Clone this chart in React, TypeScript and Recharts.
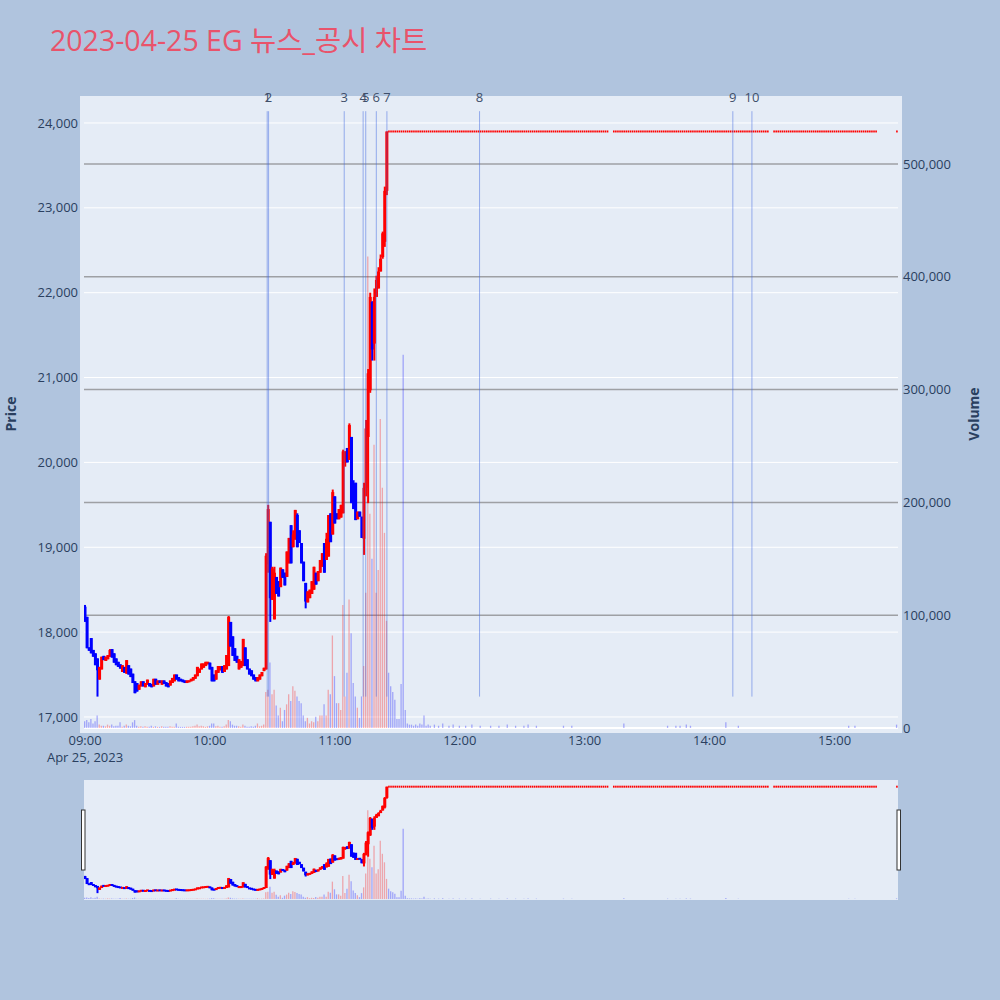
import React from "react"
import { Bar, CartesianGrid, Cell, ComposedChart, ReferenceLine, XAxis, YAxis } from "recharts"

// 1-minute candles, 09:00 (minute 0) to 11:25 (minute 145)
const opens = [
  18300, 18180, 17820, 17930, 17790, 17750, 17690, 17440, 17560, 17720,
  17660, 17680, 17710, 17800, 17750, 17690, 17650, 17620, 17530, 17590,
  17510, 17610, 17570, 17510, 17420, 17400, 17320, 17360, 17420, 17350,
  17380, 17400, 17390, 17360, 17450, 17380, 17430, 17380, 17430, 17410,
  17400, 17370, 17400, 17420, 17500, 17470, 17450, 17440, 17430, 17400,
  17410, 17420, 17430, 17450, 17480, 17520, 17560, 17580, 17600, 17620,
  17640, 17590, 17500, 17440, 17520, 17550, 17600, 17530, 17560, 17600,
  18120, 17950, 17810, 17720, 17560, 17580, 17600, 17820, 17680, 17570,
  17550, 17500, 17470, 17420, 17440, 17480, 17540, 17560, 18800, 19300,
  18380, 18150, 18650, 18600, 18530, 18740, 18700, 18650, 18810, 19260,
  19000, 19090, 19380, 19200, 19050, 18830, 18580, 18350, 18400, 18450,
  18500, 18700, 18600, 18700, 18770, 19050, 18850, 18890, 19400, 19150,
  19600, 19400, 19330, 19350, 19400, 20000, 20170, 20030, 20300, 19750,
  19760, 19330, 19420, 19360, 19100, 19700, 20300, 20850, 21890, 21400,
  21950, 22050, 22250, 22420, 22600, 23200,
]

const closes = [
  18150, 17810, 17780, 17750, 17710, 17610, 17550, 17590, 17710, 17670,
  17710, 17730, 17790, 17700, 17640, 17610, 17590, 17570, 17610, 17520,
  17670, 17500, 17470, 17400, 17280, 17300, 17380, 17420, 17360, 17400,
  17440, 17360, 17350, 17450, 17380, 17430, 17400, 17430, 17390, 17360,
  17350, 17430, 17460, 17500, 17440, 17420, 17420, 17410, 17400, 17430,
  17430, 17450, 17470, 17500, 17590, 17570, 17630, 17630, 17650, 17650,
  17560, 17420, 17420, 17550, 17600, 17600, 17520, 17610, 17730, 18180,
  17830, 17720, 17660, 17640, 17680, 17660, 17920, 17600, 17560, 17500,
  17480, 17440, 17420, 17470, 17500, 17530, 17580, 18900, 19450, 18400,
  18750, 18700, 18450, 18420, 18760, 18640, 18550, 18950, 19110, 18810,
  19150, 19440, 19000, 19050, 18810, 18600, 18360, 18480, 18500, 18600,
  18770, 18560, 18720, 18850, 18930, 18700, 19100, 19380, 19060, 19650,
  19280, 19330, 19450, 19500, 20130, 20130, 20000, 20440, 19520, 19450,
  19320, 19420, 19360, 19110, 19700, 20400, 21050, 21950, 21330, 21950,
  22150, 22250, 22400, 22700, 23200, 23900,
]

// [minute, price] where the wick pokes out of the body
const upperWicks: [number, number][] = [
  [0, 18320], [12, 17800], [69, 18190], [87, 18930], [88, 19500], [90, 18770],
  [91, 18770], [100, 19200], [102, 19400], [116, 19170], [119, 19680], [124, 20150],
  [127, 20460], [129, 19790], [134, 19760], [135, 20500], [136, 21100], [137, 22000],
  [138, 21900], [139, 22050], [140, 22200], [141, 22300], [142, 22450], [143, 22720],
  [144, 23250],
]
const lowerWicks: [number, number][] = [
  [0, 18120], [6, 17240], [88, 18700], [89, 18120], [106, 18280], [125, 19950],
  [134, 18910], [135, 19600], [136, 19520], [137, 20820], [138, 21200], [139, 21200],
  [143, 22400], [144, 22540], [145, 23150],
]

const volumes = [
  6000, 7000, 5000, 8000, 4000, 6000, 11000, 3000, 2000, 2000,
  1500, 3000, 2000, 3000, 1500, 2000, 2000, 5000, 1000, 2000,
  3000, 2000, 1500, 5000, 7000, 2000, 1000, 1500, 1000, 1500,
  1000, 1000, 2000, 1000, 1500, 1000, 1000, 1500, 1000, 1000,
  1000, 1500, 1000, 1000, 4000, 1000, 1000, 1000, 1000, 1000,
  1000, 1000, 1500, 2000, 3000, 1500, 2000, 1500, 1000, 1500,
  2000, 4000, 4000, 1500, 2000, 1000, 1000, 1500, 3000, 7000,
  6000, 3000, 2000, 2000, 1500, 1000, 3000, 2000, 1000, 1000,
  1500, 1000, 2000, 4000, 1500, 2000, 3000, 32000, 34000, 58000,
  30000, 34000, 20000, 11000, 18000, 6000, 16000, 21000, 30000, 24000,
  37000, 33000, 28000, 24000, 22000, 11000, 6000, 9000, 4000, 6000,
  5000, 10000, 6000, 11000, 11000, 21000, 11000, 34000, 30000, 82000,
  46000, 22000, 22000, 16000, 109000, 28000, 49000, 114000, 84000, 40000,
  28000, 18000, 9000, 28000, 55000, 120000, 418000, 190000, 150000, 251000,
  120000, 140000, 274000, 213000, 173000, 95000,
]

// price stuck at the upper limit for the rest of the day
const limitPrice = 23900
const limitRuns: [number, number][] = [[146, 251], [254, 328], [331, 380], [390, 390]]
const lateVolumes: [number, number][] = [
  [146, 49000], [147, 37000], [148, 32000], [149, 25000], [150, 8000], [151, 8000],
  [152, 39000], [153, 331000], [154, 16000], [155, 4000], [156, 3000], [157, 3000],
  [158, 2000], [159, 3000], [160, 2000], [161, 4000], [162, 3000], [163, 11000],
  [164, 2000], [165, 3000], [166, 2000], [168, 3000], [170, 2000], [172, 4000],
  [175, 2000], [177, 3000], [180, 2000], [183, 2000], [186, 3000], [190, 2000],
  [195, 2000], [199, 2000], [203, 3000], [207, 2000], [211, 2000], [213, 3000],
  [217, 2000], [230, 2000], [234, 2000], [259, 4000], [280, 2000], [284, 2000],
  [286, 2000], [289, 3000], [291, 2000], [308, 5000], [314, 2000], [367, 2000],
  [370, 2000], [390, 3000],
]

const newsTimes = [
  "10:27:30", "10:28:10", "11:04:30", "11:13:35", "11:14:50",
  "11:19:55", "11:25:00", "12:09:30", "14:11:10", "14:20:20",
]

const priceTicks = [17000, 18000, 19000, 20000, 21000, 22000, 23000, 24000]
const volumeTicks = [0, 100000, 200000, 300000, 400000, 500000]
const timeTicks = [0, 60, 120, 180, 240, 300, 360]

const UP = "#ff0000"
const DOWN = "#0000ff"
const FONT = "'Open Sans', 'Noto Sans CJK KR', sans-serif"
const INK = "#2a3f5f"

const xDomain = [-0.5, 390.5]
const priceDomain = [16811, 24318]
const volumeDomain = [-4433, 560284]

const toMinute = (t: string) => {
  const [h, m, s] = t.split(":").map(Number)
  return (h - 9) * 60 + m + s / 60
}

const rows: any[] = opens.map((open, i) => {
  const close = closes[i]
  const hi = upperWicks.find((w) => w[0] === i)
  const lo = lowerWicks.find((w) => w[0] === i)
  return {
    m: i,
    open,
    close,
    high: hi ? hi[1] : Math.max(open, close),
    low: lo ? lo[1] : Math.min(open, close),
    volume: volumes[i],
  }
})
limitRuns.forEach(([a, b]) => {
  for (let m = a; m <= b; m++) {
    const v = lateVolumes.find((w) => w[0] === m)
    rows.push({ m, open: limitPrice, close: limitPrice, high: limitPrice, low: limitPrice, volume: v ? v[1] : 0 })
  }
})

const lineBottom = Math.min(...rows.map((r) => r.low))
const lineTop = Math.max(...rows.map((r) => r.high)) * 1.01

const hhmm = (m: number) => {
  const h = 9 + Math.floor(m / 60)
  const mm = m % 60
  return `${String(h).padStart(2, "0")}:${String(mm).padStart(2, "0")}`
}

const Candle = (props: any) => {
  const { x, y, width, height, payload } = props
  if (payload == null || x == null || y == null) return null
  const cx = x + width / 2
  const top = Math.min(y, y + height)
  const span = Math.abs(height)
  const { open, close, high, low } = payload
  const color = close >= open ? UP : DOWN
  if (high === low) {
    return <rect x={cx - 0.8} y={top - 1} width={1.6} height={2} fill={color} />
  }
  const at = (v: number) => top + ((high - v) / (high - low)) * span
  const b1 = at(Math.max(open, close))
  const b2 = at(Math.min(open, close))
  const bh = Math.max(b2 - b1, 2)
  return (
    <g>
      <rect x={cx - 1} y={top} width={2} height={span} fill={color} />
      <rect x={cx - 1.5} y={(b1 + b2) / 2 - bh / 2} width={3} height={bh} fill={color} />
    </g>
  )
}

const volColor = (r: any) => (r.close > r.open ? "rgba(255,0,0,0.3)" : "rgba(0,0,255,0.3)")

const TimeTick = (props: any) => {
  const { x, y, payload } = props
  return (
    <g>
      <text x={x} y={y + 12} textAnchor="middle" fontSize={13} fill={INK} fontFamily={FONT}>
        {hhmm(payload.value)}
      </text>
      {payload.value === 0 && (
        <text x={x} y={y + 29} textAnchor="middle" fontSize={13} fill={INK} fontFamily={FONT}>
          Apr 25, 2023
        </text>
      )}
    </g>
  )
}

const fmt = (n: number) => n.toLocaleString("en-US")

export default function App() {
  return (
    <div style={{ position: "fixed", left: 0, top: 0, width: 1000, height: 1000, background: "#b0c4de", fontFamily: FONT }}>
      <div style={{ position: "absolute", left: 80, top: 96, width: 822, height: 637, background: "#e5ecf6" }} />
      <div style={{ position: "absolute", left: 84, top: 780, width: 814, height: 120, background: "#e5ecf6" }} />

      <div style={{ position: "absolute", left: 0, top: 0 }}>
        <ComposedChart width={1000} height={1000} data={rows} margin={{ top: 96, right: 0, bottom: 227, left: 0 }}>
          <XAxis
            xAxisId="x"
            dataKey="m"
            type="number"
            domain={xDomain}
            allowDataOverflow
            ticks={timeTicks}
            height={40}
            tickLine={false}
            axisLine={false}
            tickSize={0}
            tickMargin={0}
            tick={<TimeTick />}
          />
          <XAxis xAxisId="xv" dataKey="m" type="number" domain={xDomain} allowDataOverflow hide />
          <YAxis
            yAxisId="price"
            orientation="left"
            width={84}
            domain={priceDomain}
            allowDataOverflow
            ticks={priceTicks}
            tickFormatter={fmt}
            axisLine={false}
            tickLine={false}
            tickSize={4}
            tickMargin={2}
            tick={{ fill: INK, fontSize: 13, fontFamily: FONT }}
          />
          <YAxis
            yAxisId="vol"
            orientation="right"
            width={102}
            domain={volumeDomain}
            allowDataOverflow
            ticks={volumeTicks}
            tickFormatter={fmt}
            axisLine={false}
            tickLine={false}
            tickSize={3}
            tickMargin={2}
            tick={{ fill: INK, fontSize: 13, fontFamily: FONT, textAnchor: "start" }}
          />
          <CartesianGrid xAxisId="x" yAxisId="price" vertical={false} horizontalValues={priceTicks} stroke="#ffffff" strokeWidth={1} />
          <CartesianGrid xAxisId="x" yAxisId="vol" vertical={false} horizontalValues={volumeTicks.slice(1)} stroke="rgba(110,110,110,0.6)" strokeWidth={1.5} />
          <CartesianGrid xAxisId="x" yAxisId="vol" vertical={false} horizontalValues={[0]} stroke="#ffffff" strokeWidth={2} />
          <Bar xAxisId="xv" yAxisId="vol" dataKey="volume" barSize={1.3} isAnimationActive={false}>
            {rows.map((r, i) => (
              <Cell key={i} fill={volColor(r)} />
            ))}
          </Bar>
          <Bar
            xAxisId="x"
            yAxisId="price"
            dataKey={(d: any) => [d.low, d.high]}
            barSize={2}
            shape={Candle}
            isAnimationActive={false}
          />
          {newsTimes.map((t, i) => (
            <ReferenceLine
              key={t}
              xAxisId="x"
              yAxisId="price"
              segment={[
                { x: toMinute(t), y: lineBottom },
                { x: toMinute(t), y: lineTop },
              ]}
              stroke="rgba(65,105,225,0.5)"
              strokeWidth={1}
              label={{ value: String(i + 1), position: "top", offset: 9, fill: "#3f4f6a", fontSize: 13, fontFamily: FONT }}
            />
          ))}
        </ComposedChart>
      </div>

      <div style={{ position: "absolute", left: 0, top: 780 }}>
        <ComposedChart width={1000} height={120} data={rows} margin={{ top: 0, right: 102, bottom: 0, left: 84 }}>
          <XAxis xAxisId="x" dataKey="m" type="number" domain={xDomain} allowDataOverflow hide />
          <XAxis xAxisId="xv" dataKey="m" type="number" domain={xDomain} allowDataOverflow hide />
          <YAxis yAxisId="price" domain={priceDomain} allowDataOverflow hide />
          <YAxis yAxisId="vol" domain={volumeDomain} allowDataOverflow hide />
          <Bar xAxisId="xv" yAxisId="vol" dataKey="volume" barSize={1.3} isAnimationActive={false}>
            {rows.map((r, i) => (
              <Cell key={i} fill={volColor(r)} />
            ))}
          </Bar>
          <Bar
            xAxisId="x"
            yAxisId="price"
            dataKey={(d: any) => [d.low, d.high]}
            barSize={2}
            shape={Candle}
            isAnimationActive={false}
          />
        </ComposedChart>
      </div>

      <svg width={1000} height={1000} style={{ position: "absolute", left: 0, top: 0, pointerEvents: "none" }}>
        <text x={50} y={51} fontSize={28.5} fill="#e9536b" fontFamily={FONT}>
          2023-04-25 EG 뉴스_공시 차트
        </text>
        <text x={10} y={414} fontSize={14} fill={INK} fontFamily={FONT} fontWeight="bold" textAnchor="middle" dominantBaseline="central" transform="rotate(-90 10 414)">
          Price
        </text>
        <text x={973} y={414} fontSize={14} fill={INK} fontFamily={FONT} fontWeight="bold" textAnchor="middle" dominantBaseline="central" transform="rotate(-90 973 414)">
          Volume
        </text>
        <rect x={81.5} y={810} width={3.5} height={60} fill="#ffffff" stroke="#333" strokeWidth={1} />
        <rect x={897} y={810} width={3.5} height={60} fill="#ffffff" stroke="#333" strokeWidth={1} />
      </svg>
    </div>
  )
}
